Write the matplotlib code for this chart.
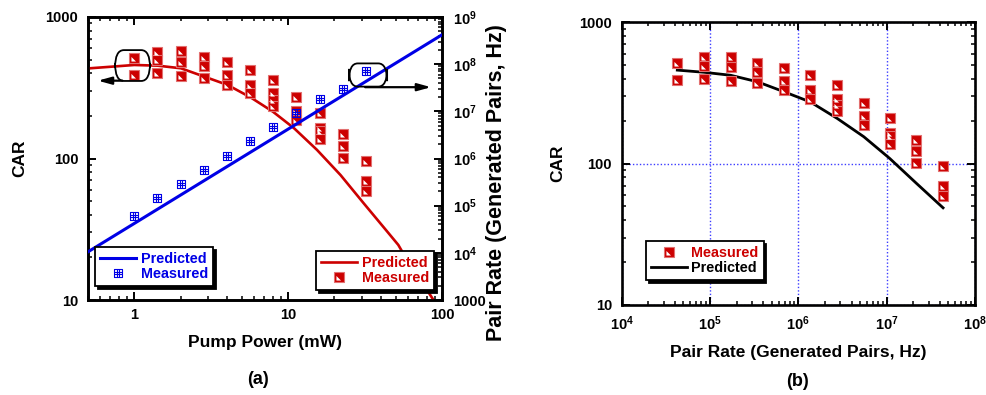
import numpy as np
import matplotlib
matplotlib.use("Agg")
import matplotlib.pyplot as plt
from matplotlib.path import Path
from matplotlib.patches import FancyBboxPatch
from matplotlib.ticker import FuncFormatter, FixedLocator, NullFormatter, LogLocator

# ---- data ----
# pump power steps (mW) and the generated pair rate used in panel (b)
power = [1.0, 1.41, 2.0, 2.83, 4.0, 5.66, 8.0, 11.3, 16.0, 22.6, 32.0]
pair_rate = [4.26e4, 8.53e4, 1.71e5, 3.42e5, 6.85e5, 1.37e6, 2.75e6, 5.51e6, 1.08e7, 2.17e7, 4.35e7]

# measured CAR, several points per power step
car_meas = [
    [513, 392],
    [568, 493, 399],
    [571, 481, 384],
    [518, 447, 372],
    [477, 386, 330],
    [421, 332, 288],
    [358, 288, 261, 234],
    [270, 216, 187],
    [209, 164, 157, 137],
    [148, 122, 100.5],
    [96.2, 69, 59],
]

# measured pair rate (right axis of panel a)
rate_meas = [6.1e4, 1.43e5, 2.95e5, 5.7e5, 1.15e6, 2.31e6, 4.72e6, 9.08e6, 1.82e7, 2.93e7, 7.16e7]

# predicted pair rate (straight line on log-log)
rate_pred_p = [0.5, 100]
rate_pred = [1.05e4, 4.2e8]

# predicted CAR vs pump power (panel a)
car_pred_p = [0.514, 1.0, 1.42, 2.01, 2.85, 4.04, 5.71, 7.97, 10.9, 15.4, 21.9, 31.0, 44.0, 52.0, 62.0, 81.0, 88.0, 95.0]
car_pred = [434, 458, 453, 434, 379, 331, 270, 214, 164, 115, 76.4, 48.2, 30.5, 24.5, 17.6, 11.5, 10.0, 8.7]

# predicted CAR vs pair rate (panel b)
car_pred_b_rate = pair_rate
car_pred_b = [459, 443, 422, 380, 323, 273, 209, 155, 109, 72.6, 48.7]

RED = "#cc0000"
BLUE = "#0000e6"

plt.rcParams["font.family"] = ["Liberation Sans", "DejaVu Sans"]
plt.rcParams["font.weight"] = "bold"
plt.rcParams["mathtext.fontset"] = "custom"
plt.rcParams["mathtext.rm"] = "Liberation Sans:bold"
plt.rcParams["mathtext.bf"] = "Liberation Sans:bold"
plt.rcParams["mathtext.it"] = "Liberation Sans:bold"
plt.rcParams["axes.linewidth"] = 1.9

# custom markers
tri_marker = Path([(-1, -1), (0.5, -1), (-1, 0.5), (-1, -1)],
                  [Path.MOVETO, Path.LINETO, Path.LINETO, Path.CLOSEPOLY])
g = 1.0 / 3
grid_marker = Path(
    [(-1, -1), (1, -1), (1, 1), (-1, 1), (-1, -1),
     (-g, -1), (-g, 1), (g, -1), (g, 1),
     (-1, -g), (1, -g), (-1, g), (1, g)],
    [Path.MOVETO, Path.LINETO, Path.LINETO, Path.LINETO, Path.LINETO,
     Path.MOVETO, Path.LINETO, Path.MOVETO, Path.LINETO,
     Path.MOVETO, Path.LINETO, Path.MOVETO, Path.LINETO])

SQ_MS = 6.8
TRI_MS = 4.4


def flat(xs, cols):
    xx, yy = [], []
    for x, col in zip(xs, cols):
        for v in col:
            xx.append(x)
            yy.append(v)
    return xx, yy


def red_points(ax, x, y, zorder=4):
    ax.plot(x, y, ls="none", marker="s", ms=SQ_MS, mfc=RED, mec="#e27070", mew=0.8, zorder=zorder)
    ax.plot(x, y, ls="none", marker=tri_marker, ms=TRI_MS, mfc="white", mew=0, zorder=zorder + 0.1)


def style_ticks(ax, right=True):
    ax.tick_params(which="both", direction="in", top=True, right=right, labelsize=10.5)
    ax.tick_params(which="major", length=5.5, width=1.4)
    ax.tick_params(which="minor", length=3, width=1.1)


def pow10(v, pos):
    return r"$10^{%d}$" % int(round(np.log10(v)))


fig = plt.figure(figsize=(9.87, 3.95), dpi=100)

# ---------------- panel (a) ----------------
ax = fig.add_axes([88 / 987, 1 - 300 / 395, 354 / 987, 283 / 395])
ax.set_xscale("log")
ax.set_yscale("log")
ax.set_xlim(0.5, 100)
ax.set_ylim(10, 1000)
style_ticks(ax, right=False)
ax.xaxis.set_major_locator(FixedLocator([1, 10, 100]))
ax.xaxis.set_major_formatter(FuncFormatter(lambda v, p: "%g" % v))
ax.xaxis.set_minor_formatter(NullFormatter())
ax.yaxis.set_major_locator(FixedLocator([10, 100, 1000]))
ax.yaxis.set_major_formatter(FuncFormatter(lambda v, p: "%d" % v))
ax.yaxis.set_minor_formatter(NullFormatter())
ax.tick_params(axis="x", pad=6)
ax.tick_params(axis="y", pad=7)

ax2 = ax.twinx()
ax2.set_yscale("log")
ax2.set_ylim(1e3, 1e9)
ax2.tick_params(which="both", direction="in", labelsize=10.5, pad=8)
ax2.tick_params(which="major", length=5.5, width=1.4)
ax2.tick_params(which="minor", length=3, width=1.1)
ax2.yaxis.set_major_locator(LogLocator(base=10, numticks=20))
ax2.yaxis.set_minor_locator(LogLocator(base=10, subs=np.arange(2, 10), numticks=20))
ax2.yaxis.set_major_formatter(FuncFormatter(lambda v, p: "1000" if v < 2e3 else pow10(v, p)))
ax2.yaxis.set_minor_formatter(NullFormatter())

lr, = ax.plot(car_pred_p, car_pred, color=RED, lw=1.9, zorder=3)
px, py = flat(power, car_meas)
red_points(ax, px, py)

lb, = ax2.plot(rate_pred_p, rate_pred, color=BLUE, lw=2.2, zorder=3)
mb, = ax2.plot(power, rate_meas, ls="none", marker=grid_marker, ms=5.8, mfc="none",
               mec=BLUE, mew=0.8, zorder=4)

ax.set_xlabel("Pump Power (mW)", fontsize=12.5, fontweight="bold")
ax.xaxis.set_label_coords(0.5, -0.122)
ax.set_ylabel("CAR", fontsize=12.5, fontweight="bold")
ax.yaxis.set_label_coords(-0.172, 0.5)
ax2.set_ylabel("Pair Rate (Generated Pairs, Hz)", fontsize=15.5, fontweight="bold")
ax2.yaxis.set_label_coords(1.123, 0.415)

# legend handles for the red marker (square + white triangle)
hr_sq, = ax.plot([], [], ls="none", marker="s", ms=SQ_MS, mfc=RED, mec="#e27070", mew=0.8)
hr_tr, = ax.plot([], [], ls="none", marker=tri_marker, ms=TRI_MS, mfc="white", mew=0)

leg_kw = dict(fontsize=10.4, frameon=True, fancybox=False, edgecolor="black",
              framealpha=1, handlelength=2.5, handletextpad=0.3, labelspacing=0.05,
              borderpad=0.35, borderaxespad=0,
              shadow={"color": "black", "alpha": 1})
legb = ax2.legend([lb, mb], ["Predicted", "Measured"], loc="lower left",
                  bbox_to_anchor=(0.02, 0.05), labelcolor=BLUE, **leg_kw)
legb.get_frame().set_linewidth(1.3)
legr = ax2.legend([lr, (hr_sq, hr_tr)], ["Predicted", "Measured"], loc="lower right",
                  bbox_to_anchor=(0.977, 0.036), labelcolor=RED, **leg_kw)
legr.get_frame().set_linewidth(1.3)
ax2.add_artist(legb)

# rounded boxes with arrows pointing to the matching axis
for (x0, y0, w, h) in [(0.0763, 0.774, 0.099, 0.109), (0.737, 0.754, 0.108, 0.082)]:
    ax2.add_patch(FancyBboxPatch((x0, y0), w, h, boxstyle="round,pad=0,rounding_size=0.025",
                                 transform=ax.transAxes, fill=False, ec="black", lw=1.3,
                                 zorder=6, mutation_aspect=2.5))
ax2.annotate("", xy=(0.02, 0.775), xytext=(0.105, 0.775), xycoords="axes fraction",
             arrowprops=dict(arrowstyle="-|>,head_length=0.8,head_width=0.22", color="black", lw=1.6))
ax2.annotate("", xy=(0.977, 0.752), xytext=(0.775, 0.752), xycoords="axes fraction",
             arrowprops=dict(arrowstyle="-|>,head_length=0.8,head_width=0.22", color="black", lw=1.6))

fig.text(258 / 987, 0.038, "(a)", ha="center", va="center", fontsize=13, fontweight="bold")

# ---------------- panel (b) ----------------
bx = fig.add_axes([621.7 / 987, 1 - 305 / 395, 353.3 / 987, 282.7 / 395])
bx.set_xscale("log")
bx.set_yscale("log")
bx.set_xlim(1e4, 1e8)
bx.set_ylim(10, 1000)
style_ticks(bx, right=True)
bx.xaxis.set_major_locator(LogLocator(base=10, numticks=10))
bx.xaxis.set_major_formatter(FuncFormatter(pow10))
bx.xaxis.set_minor_formatter(NullFormatter())
bx.yaxis.set_major_locator(FixedLocator([10, 100, 1000]))
bx.yaxis.set_major_formatter(FuncFormatter(lambda v, p: "%d" % v))
bx.yaxis.set_minor_formatter(NullFormatter())
bx.tick_params(axis="x", pad=7)
bx.tick_params(axis="y", pad=7)
bx.grid(which="major", color="#3c3cff", ls=(0, (1, 1.5)), lw=1.0)

bx_x, bx_y = flat(pair_rate, car_meas)
red_points(bx, bx_x, bx_y)
lk, = bx.plot(car_pred_b_rate, car_pred_b, color="black", lw=2.0, zorder=3)

bx.set_xlabel("Pair Rate (Generated Pairs, Hz)", fontsize=12.5, fontweight="bold")
bx.xaxis.set_label_coords(0.5, -0.14)
bx.set_ylabel("CAR", fontsize=12.5, fontweight="bold")
bx.yaxis.set_label_coords(-0.160, 0.5)

legk = bx.legend([(hr_sq, hr_tr), lk], ["Measured", "Predicted"], loc="lower left",
                 bbox_to_anchor=(0.068, 0.088), **leg_kw)
legk.get_frame().set_linewidth(1.3)
legk.get_texts()[0].set_color(RED)
legk.get_texts()[1].set_color("black")

fig.text(797.7 / 987, 0.034, "(b)", ha="center", va="center", fontsize=13, fontweight="bold")

fig.savefig("out.png", dpi=100)
